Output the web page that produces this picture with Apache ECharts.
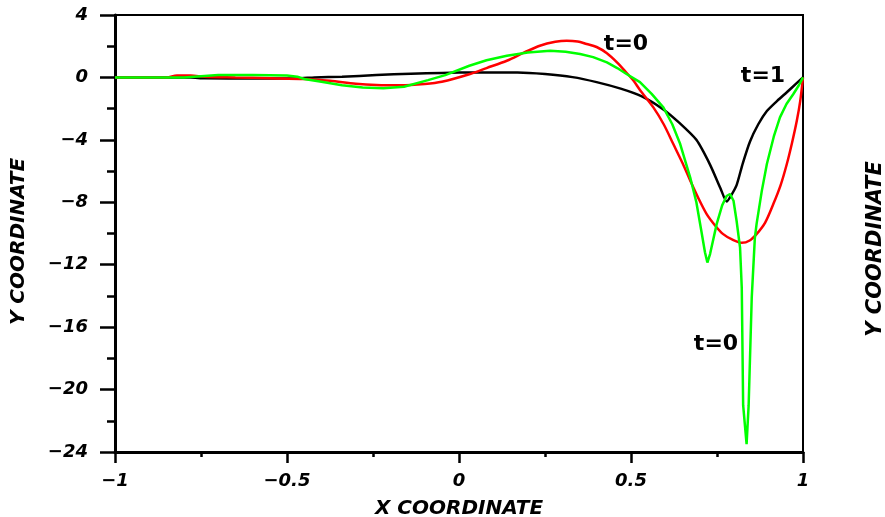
<!DOCTYPE html>
<html>
<head>
<meta charset="utf-8">
<script src="https://cdn.jsdelivr.net/npm/echarts@6/dist/echarts.min.js"></script>
<style>
  html, body { margin: 0; padding: 0; background: #fff; }
  #chart { width: 885px; height: 517px; }
</style>
</head>
<body>
<div id="chart"></div>
<script>
// Axis ranges and tick labels
const xTicks = [-1, -0.5, 0, 0.5, 1];
const yTicks = [4, 0, -4, -8, -12, -16, -20, -24];

// Profile at t=1 (black)
const blackX = [-1, -0.78, -0.74, -0.6, -0.47, -0.42, -0.34, -0.24, -0.14, -0.05, 0.05, 0.17, 0.25, 0.33, 0.40,
  0.47, 0.53, 0.594, 0.64, 0.69, 0.73, 0.76, 0.778, 0.79, 0.807, 0.825, 0.846, 0.87, 0.895, 0.925, 0.953, 0.98, 1];
const blackY = [0, 0, -0.06, -0.07, -0.06, 0, 0.05, 0.15, 0.24, 0.29, 0.32, 0.32, 0.22, 0.02, -0.3,
  -0.72, -1.2, -2.05, -2.9, -4.0, -5.6, -7.1, -7.95, -7.6, -6.9, -5.5, -4.1, -3.0, -2.15, -1.5, -0.95, -0.4, 0];

// Profile at t=0 (red)
const redX = [-1, -0.85, -0.82, -0.78, -0.74, -0.65, -0.55, -0.45, -0.375, -0.3, -0.24, -0.17, -0.1, -0.05, 0.03,
  0.08, 0.139, 0.19, 0.235, 0.28, 0.313, 0.345, 0.371, 0.40, 0.43, 0.46, 0.487, 0.507, 0.526, 0.565, 0.595,
  0.623, 0.65, 0.672, 0.695, 0.72, 0.745, 0.768, 0.795, 0.822, 0.845, 0.865, 0.89, 0.914, 0.935, 0.953, 0.968,
  0.982, 0.992, 1];
const redY = [0, 0, 0.12, 0.12, 0.05, 0, -0.05, -0.1, -0.22, -0.4, -0.48, -0.5, -0.42, -0.28, 0.2,
  0.6, 1.07, 1.6, 2.03, 2.28, 2.35, 2.3, 2.14, 1.95, 1.55, 0.95, 0.3, -0.2, -0.8, -1.92, -3.0,
  -4.27, -5.5, -6.6, -7.7, -8.76, -9.5, -10.04, -10.4, -10.6, -10.45, -10.04, -9.3, -8.1, -6.9, -5.55, -4.2,
  -2.78, -1.5, 0];

// Profile at t=0 (green)
const greenX = [-1, -0.8, -0.77, -0.7, -0.6, -0.5, -0.47, -0.45, -0.4, -0.34, -0.28, -0.22, -0.16, -0.09, -0.04,
  0.03, 0.08, 0.139, 0.2, 0.265, 0.31, 0.352, 0.39, 0.43, 0.46, 0.487, 0.526, 0.56, 0.594, 0.62, 0.643,
  0.672, 0.69, 0.705, 0.715, 0.722, 0.73, 0.749, 0.765, 0.778, 0.788, 0.798, 0.807, 0.817, 0.822, 0.826,
  0.836, 0.842, 0.851, 0.86, 0.865, 0.88, 0.895, 0.915, 0.933, 0.952, 0.972, 0.988, 1];
const greenY = [0, 0, 0.05, 0.15, 0.15, 0.12, 0.05, -0.1, -0.28, -0.5, -0.65, -0.7, -0.6, -0.17, 0.15,
  0.75, 1.1, 1.39, 1.6, 1.71, 1.65, 1.5, 1.3, 0.96, 0.6, 0.22, -0.3, -1.05, -1.92, -3.0, -4.27,
  -6.4, -8.0, -9.9, -11.2, -11.86, -11.3, -9.4, -8.2, -7.6, -7.47, -7.9, -9.2, -10.9, -13.5, -21,
  -23.5, -21, -14.1, -10.3, -9.4, -7.3, -5.55, -3.8, -2.56, -1.7, -1.06, -0.5, 0];

const pairs = (xs, ys) => xs.map((x, i) => [x, ys[i]]);
const fmt = v => (v < 0 ? '\u2212' + Math.abs(v) : String(v));

const tickFont = {
  fontFamily: 'DejaVu Sans', fontWeight: 'bold', fontStyle: 'italic', fontSize: 18, color: '#000'
};
const nameFont = {
  fontFamily: 'DejaVu Sans', fontWeight: 'bold', fontStyle: 'italic', fontSize: 20, color: '#000'
};
const noteFont = 'bold 22px "DejaVu Sans"';

const chart = echarts.init(document.getElementById('chart'), null, { renderer: 'canvas' });

chart.setOption({
  animation: false,
  backgroundColor: '#fff',
  grid: {
    left: 115, right: 82, top: 15, bottom: 65,
    outerBoundsMode: 'none', containLabel: false,
    show: true, borderColor: '#000', borderWidth: 2, backgroundColor: 'transparent'
  },
  xAxis: {
    type: 'value',
    min: xTicks[0], max: xTicks[xTicks.length - 1], interval: 0.5,
    name: 'X COORDINATE', nameLocation: 'middle', nameGap: 47,
    nameTextStyle: nameFont,
    axisLine: { show: true, onZero: false, lineStyle: { color: '#000', width: 3 } },
    axisTick: { show: true, inside: false, length: 11, lineStyle: { color: '#000', width: 2.5 } },
    minorTick: { show: true, splitNumber: 2, length: 5, lineStyle: { color: '#000', width: 2.5 } },
    axisLabel: Object.assign({ margin: 20, formatter: fmt }, tickFont),
    splitLine: { show: false }
  },
  yAxis: {
    type: 'value',
    min: yTicks[yTicks.length - 1], max: yTicks[0], interval: 4,
    name: 'Y COORDINATE', nameLocation: 'middle', nameGap: 86, nameRotate: 90,
    nameTextStyle: Object.assign({ padding: [0, 16, 0, 0] }, nameFont),
    axisLine: { show: true, onZero: false, lineStyle: { color: '#000', width: 3 } },
    axisTick: { show: true, inside: false, length: 15, lineStyle: { color: '#000', width: 2.5 } },
    minorTick: { show: true, splitNumber: 2, length: 8, lineStyle: { color: '#000', width: 2.5 } },
    axisLabel: Object.assign({ margin: 27, formatter: fmt }, tickFont),
    splitLine: { show: false }
  },
  series: [
    {
      name: 't=1', type: 'line', data: pairs(blackX, blackY),
      showSymbol: false, smooth: 0.2, z: 2,
      lineStyle: { color: '#000000', width: 2.5 }
    },
    {
      name: 't=0 (red)', type: 'line', data: pairs(redX, redY),
      showSymbol: false, smooth: 0.3, z: 3,
      lineStyle: { color: '#ff0000', width: 2.5 }
    },
    {
      name: 't=0 (green)', type: 'line', data: pairs(greenX, greenY),
      showSymbol: false, smooth: false, z: 4,
      lineStyle: { color: '#00ff00', width: 2.5 }
    }
  ],
  graphic: [
    { type: 'text', x: 626, y: 44, z: 10,
      style: { text: 't=0', font: noteFont, fill: '#000', align: 'center', verticalAlign: 'middle' } },
    { type: 'text', x: 763, y: 76, z: 10,
      style: { text: 't=1', font: noteFont, fill: '#000', align: 'center', verticalAlign: 'middle' } },
    { type: 'text', x: 716, y: 344, z: 10,
      style: { text: 't=0', font: noteFont, fill: '#000', align: 'center', verticalAlign: 'middle' } },
    // axis title of the neighbouring panel, cut by the page edge
    { type: 'text', x: 876, y: 249, rotation: Math.PI / 2, z: 10,
      style: { text: 'Y COORDINATE', font: 'italic bold 21px "DejaVu Sans"', fill: '#000',
               align: 'center', verticalAlign: 'middle' } }
  ]
});
</script>
</body>
</html>
